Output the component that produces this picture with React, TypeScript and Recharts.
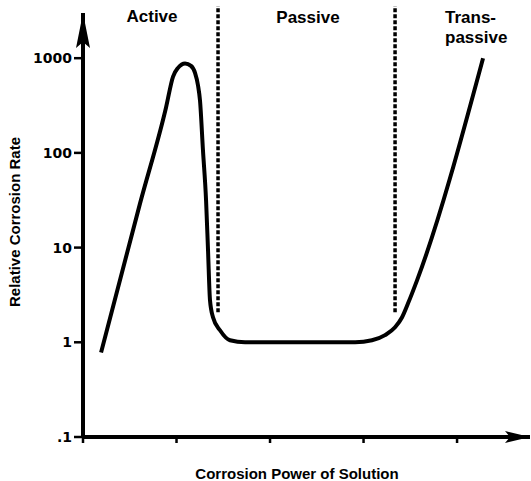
import { Customized, Line, LineChart, ReferenceLine, XAxis, YAxis } from 'recharts'

// corrosion power (arbitrary units, one unit per x tick) vs relative corrosion rate
const powerValues = [
  0.193, 0.61, 0.888, 0.963, 1.016, 1.091, 1.155, 1.198, 1.23, 1.251, 1.283, 1.316, 1.337, 1.358,
  1.39, 1.465, 1.572, 1.733, 2.32, 2.91, 3.09, 3.23, 3.337, 3.412, 3.476, 3.572, 4.278,
]
const rateValues = [
  0.78, 29.3, 302, 640, 790, 880, 830, 700, 515, 358, 106, 31.5, 9.35, 2.78, 1.84, 1.34, 1.05,
  1.0, 1.0, 1.0, 1.05, 1.19, 1.44, 1.84, 2.58, 4.51, 1000,
]

const xTicks = [0, 1, 2, 3, 4]
const yTicks = [0.1, 1, 10, 100, 1000]
const yTickLabels = ['.1', '1', '10', '100', '1000']

// active/passive and passive/transpassive boundaries
const boundaryPower = [1.444, 3.337]
const boundaryBottom = 2.07
const boundaryTop = 3560

const chartData = powerValues.map((power, i) => ({ power, rate: rateValues[i] }))

const labelFont = '"Liberation Sans", Arial, sans-serif'

const TextLayer = () => (
  <g fontFamily={labelFont} fontWeight="bold" fill="#000">
    <text x={152} y={22} fontSize={17} textAnchor="middle">Active</text>
    <text x={308} y={23} fontSize={17} textAnchor="middle">Passive</text>
    <text x={445} y={23} fontSize={17}>Trans-</text>
    <text x={445} y={43} fontSize={17}>passive</text>
    <text x={297} y={479} fontSize={15} textAnchor="middle">Corrosion Power of Solution</text>
    <text x={20} y={222} fontSize={15} textAnchor="middle" transform="rotate(-90 20 222)">
      Relative Corrosion Rate
    </text>
  </g>
)

const App = () => (
  <div style={{ position: 'absolute', left: 0, top: 0, background: '#fff' }}>
    <LineChart width={531} height={481} data={chartData} margin={{ top: 13, right: 1, bottom: 0, left: 0 }}>
      <defs>
        <marker id="arrowX" markerUnits="userSpaceOnUse" markerWidth={26} markerHeight={14} refX={25} refY={7} orient="auto">
          <path d="M0,1 L25,7 L0,13 L5,7 Z" fill="#000" />
        </marker>
        <marker id="arrowY" markerUnits="userSpaceOnUse" markerWidth={36} markerHeight={14} refX={35} refY={7} orient="auto-start-reverse">
          <path d="M0,0 L35,7 L0,14 L6,7 Z" fill="#000" />
        </marker>
      </defs>
      <XAxis
        dataKey="power"
        type="number"
        domain={[0, 4.78]}
        ticks={xTicks}
        tick={() => <g />}
        tickSize={6}
        height={44}
        axisLine={{ stroke: '#000', strokeWidth: 4, markerEnd: 'url(#arrowX)' }}
        tickLine={{ stroke: '#000', strokeWidth: 2.5 }}
      />
      <YAxis
        type="number"
        scale="log"
        domain={[0.1, 3000]}
        allowDataOverflow
        ticks={yTicks}
        tickFormatter={(_v: number, i: number) => yTickLabels[i]}
        width={83}
        tickSize={9}
        axisLine={{ stroke: '#000', strokeWidth: 4, markerStart: 'url(#arrowY)' }}
        tickLine={{ stroke: '#000', strokeWidth: 2.5 }}
        tick={{ fill: '#000', fontSize: 14, fontWeight: 'bold', fontFamily: '"DejaVu Sans", sans-serif' }}
      />
      {boundaryPower.map((x) => (
        <ReferenceLine
          key={x}
          segment={[
            { x, y: boundaryBottom },
            { x, y: boundaryTop },
          ]}
          ifOverflow="visible"
          stroke="#000"
          strokeWidth={3.5}
          strokeDasharray="4 2"
        />
      ))}
      <Line
        dataKey="rate"
        type="monotone"
        stroke="#000"
        strokeWidth={4}
        dot={false}
        activeDot={false}
        isAnimationActive={false}
      />
      <Customized component={TextLayer} />
    </LineChart>
  </div>
)

export default App
